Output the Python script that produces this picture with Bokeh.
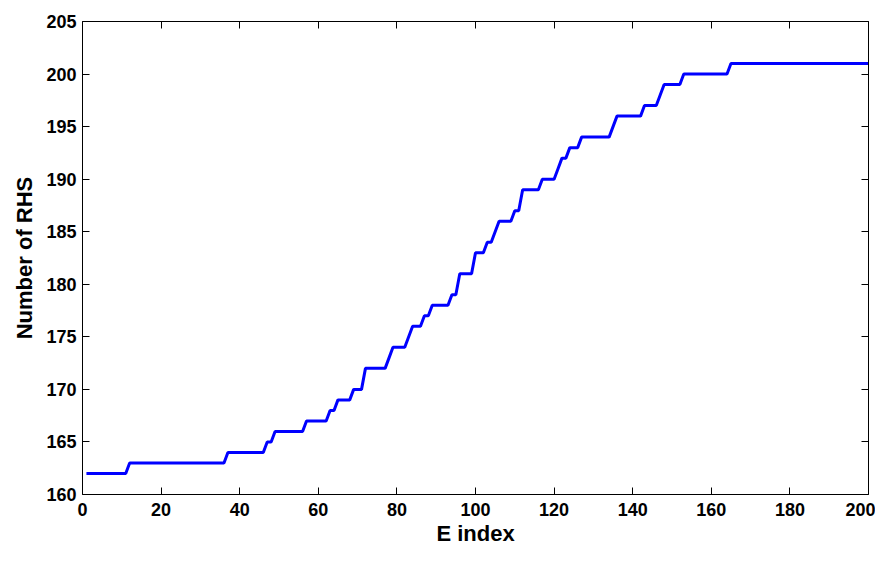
from bokeh.plotting import figure
from bokeh.models import LinearAxis, FixedTicker, Range1d, ColumnDataSource, CustomJSTickFormatter
from bokeh.embed import file_html
from bokeh.resources import INLINE

# ---- data ----
e_index = list(range(1, 201))
num_rhs = [
    162, 162, 162, 162, 162, 162, 162, 162, 162, 162, 162, 163, 163, 163, 163, 163, 163, 163, 163, 163,
    163, 163, 163, 163, 163, 163, 163, 163, 163, 163, 163, 163, 163, 163, 163, 163, 164, 164, 164, 164,
    164, 164, 164, 164, 164, 164, 165, 165, 166, 166, 166, 166, 166, 166, 166, 166, 167, 167, 167, 167,
    167, 167, 168, 168, 169, 169, 169, 169, 170, 170, 170, 172, 172, 172, 172, 172, 172, 173, 174, 174,
    174, 174, 175, 176, 176, 176, 177, 177, 178, 178, 178, 178, 178, 179, 179, 181, 181, 181, 181, 183,
    183, 183, 184, 184, 185, 186, 186, 186, 186, 187, 187, 189, 189, 189, 189, 189, 190, 190, 190, 190,
    191, 192, 192, 193, 193, 193, 194, 194, 194, 194, 194, 194, 194, 194, 195, 196, 196, 196, 196, 196,
    196, 196, 197, 197, 197, 197, 198, 199, 199, 199, 199, 199, 200, 200, 200, 200, 200, 200, 200, 200,
    200, 200, 200, 200, 201, 201, 201, 201, 201, 201, 201, 201, 201, 201, 201, 201, 201, 201, 201, 201,
    201, 201, 201, 201, 201, 201, 201, 201, 201, 201, 201, 201, 201, 201, 201, 201, 201, 201, 201, 201,
]
x_ticks = [0, 20, 40, 60, 80, 100, 120, 140, 160, 180, 200]
y_ticks = [160, 165, 170, 175, 180, 185, 190, 195, 200, 205]
x_label = "E index"
y_label = "Number of RHS"

FONT = "Liberation Sans"

p = figure(width=875, height=548, output_backend="svg", toolbar_location=None,
           x_range=Range1d(0, 200), y_range=Range1d(160, 205),
           min_border_left=82, min_border_right=7, min_border_top=21, min_border_bottom=45,
           x_axis_label=x_label, y_axis_label=y_label)
p.grid.visible = False
p.outline_line_color = None
p.background_fill_color = "white"
p.border_fill_color = "white"

src = ColumnDataSource(dict(x=e_index, y=num_rhs))
p.line("x", "y", source=src, line_color="#0000ff", line_width=3)

def style(ax, ticks, show_labels):
    ax.ticker = FixedTicker(ticks=ticks)
    ax.axis_line_color = "black"
    ax.axis_line_width = 1
    ax.major_tick_line_color = "black"
    ax.major_tick_line_width = 1
    ax.major_tick_in = 7
    ax.major_tick_out = 0
    ax.minor_tick_line_color = None
    ax.major_label_text_font = FONT
    ax.major_label_text_font_style = "bold"
    ax.major_label_text_font_size = "18px"
    ax.major_label_text_color = "black"
    ax.axis_label_text_font = FONT
    ax.axis_label_text_font_style = "bold"
    ax.axis_label_text_font_size = "22px"
    ax.axis_label_text_color = "black"
    if not show_labels:
        ax.formatter = CustomJSTickFormatter(code="return ''")
        ax.major_label_text_font_size = "0px"
        ax.major_label_standoff = 0

style(p.xaxis[0], x_ticks, True)
style(p.yaxis[0], y_ticks, True)
p.xaxis[0].major_label_standoff = 8
p.xaxis[0].axis_label_standoff = 2
p.yaxis[0].major_label_standoff = 6
p.yaxis[0].axis_label_standoff = 6

top = LinearAxis()
right = LinearAxis()
style(top, x_ticks, False)
style(right, y_ticks, False)
p.add_layout(top, "above")
p.add_layout(right, "right")

open("out.html", "w").write(file_html(p, INLINE))
